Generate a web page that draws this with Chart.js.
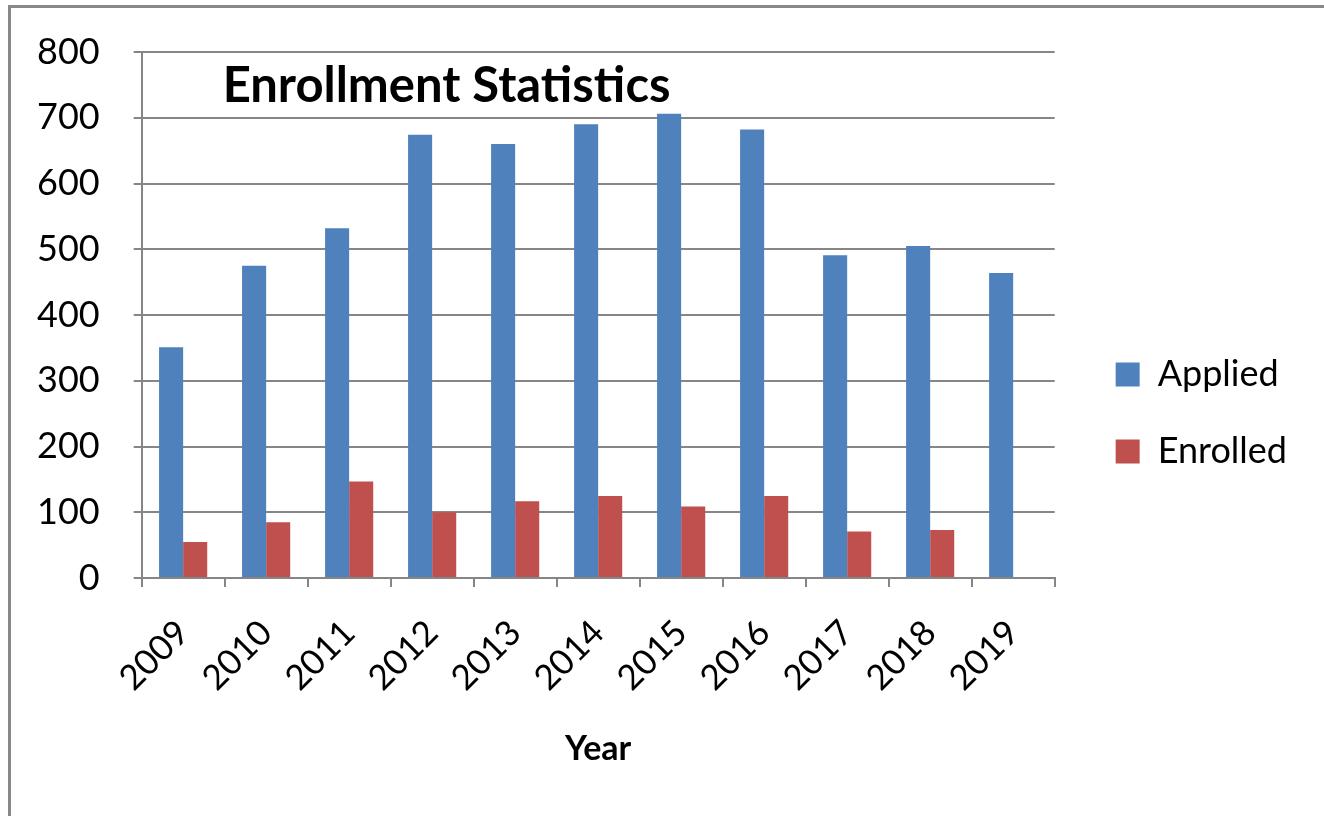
<!DOCTYPE html>
<html>
<head>
<meta charset="utf-8">
<script src="https://cdn.jsdelivr.net/npm/chart.js@4/dist/chart.umd.min.js"></script>
<style>
    html, body { margin: 0; padding: 0; background: #fff; }
    #wrap { position: relative; width: 1324px; height: 816px; overflow: hidden; }
    #frame {
        position: absolute; left: 8px; top: 5px; right: -10px; bottom: -10px;
        border-left: 3px solid #888; border-top: 3px solid #888;
        pointer-events: none;
    }
    canvas { position: absolute; left: 0; top: 0; }
</style>
</head>
<body>
<div id="wrap">
    <canvas id="chart" width="1324" height="816"></canvas>
    <div id="frame"></div>
</div>
<script>
// ===================================
// Chart data
// ===================================
const years = ['2009', '2010', '2011', '2012', '2013', '2014', '2015', '2016', '2017', '2018', '2019'];
const applied = [351, 475, 532, 674, 660, 690, 706, 682, 491, 505, 464];
const enrolled = [55, 85, 147, 100, 117, 125, 109, 125, 71, 73, null];
const yTicks = [0, 100, 200, 300, 400, 500, 600, 700, 800];

const chartTitle = 'Enrollment Statistics';
const axisGray = '#868686';

Chart.defaults.font.family = 'Lato, "Open Sans", sans-serif';
Chart.defaults.color = '#000';

// Title sits inside the plot area, so draw it by hand
const insideTitle = {
    id: 'insideTitle',
    afterDatasetsDraw(chart) {
        const { ctx, chartArea } = chart;
        ctx.save();
        let size = 40;
        ctx.font = `bold ${size}px Lato, sans-serif`;
        const w = ctx.measureText(chartTitle).width;
        size = size * 448 / w;
        ctx.font = `bold ${size}px Lato, sans-serif`;
        ctx.fillStyle = '#000';
        ctx.textBaseline = 'alphabetic';
        ctx.fillText(chartTitle, chartArea.left + 81, chartArea.top + 50);
        ctx.restore();
    }
};

const ctx = document.getElementById('chart').getContext('2d');
new Chart(ctx, {
    type: 'bar',
    data: {
        labels: years,
        datasets: [{
            label: 'Applied',
            data: applied,
            backgroundColor: '#4F81BD',
            borderWidth: 0
        }, {
            label: 'Enrolled',
            data: enrolled,
            backgroundColor: '#C0504D',
            borderWidth: 0
        }]
    },
    options: {
        responsive: false,
        animation: false,
        layout: {
            padding: { top: 22, left: 3, right: 35, bottom: 47 }
        },
        datasets: {
            bar: {
                categoryPercentage: 0.58,
                barPercentage: 1.0
            }
        },
        plugins: {
            legend: {
                position: 'right',
                // empty title only nudges the items down a little
                title: { display: true, text: '', padding: 0, font: { size: 29 } },
                labels: {
                    boxWidth: 24,
                    boxHeight: 24,
                    padding: 41,
                    font: { size: 36 }
                }
            },
            tooltip: { enabled: false }
        },
        scales: {
            x: {
                grid: {
                    drawOnChartArea: false,
                    color: axisGray,
                    lineWidth: 2,
                    tickLength: 9
                },
                border: { color: axisGray, width: 2 },
                ticks: {
                    maxRotation: 45,
                    minRotation: 45,
                    padding: 25,
                    font: { size: 35 }
                },
                title: {
                    display: true,
                    text: 'Year',
                    font: { size: 34, weight: 'bold' },
                    padding: { top: 4, bottom: 0 }
                }
            },
            y: {
                min: 0,
                max: 800,
                afterBuildTicks: (axis) => {
                    axis.ticks = yTicks.map(v => ({ value: v }));
                },
                grid: {
                    color: axisGray,
                    lineWidth: 2,
                    tickLength: 8
                },
                border: { color: axisGray, width: 2 },
                ticks: {
                    padding: 34,
                    font: { size: 36, lineHeight: 1.0 }
                }
            },
            // empty axis that only keeps a gap between plot and legend
            gap: {
                position: 'right',
                display: true,
                grid: { display: false },
                border: { display: false },
                ticks: { display: false },
                afterFit: (axis) => { axis.width = 20; }
            }
        }
    },
    plugins: [insideTitle]
});
</script>
</body>
</html>
